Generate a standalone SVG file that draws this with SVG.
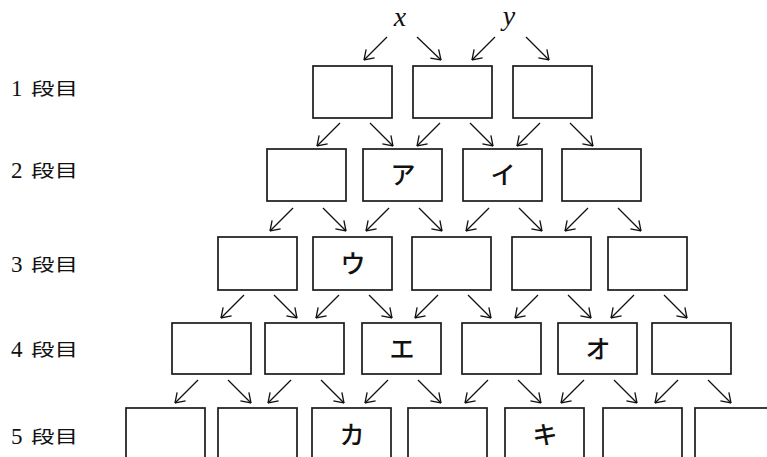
<svg xmlns="http://www.w3.org/2000/svg" width="767" height="457" viewBox="0 0 767 457">
<style>
.box{fill:#fff;stroke:#1a1a1a;stroke-width:1.7}
.arr{stroke:#111;stroke-width:1.3;fill:none;marker-end:url(#ah)}
.num{font-family:"Liberation Serif",serif;font-size:23px;fill:#111}
.kan{font-family:"Noto Sans CJK JP",sans-serif;font-size:17px;fill:#111}
.kana{font-family:"Noto Sans CJK JP",sans-serif;font-size:25px;font-weight:500;fill:#111;text-anchor:middle}
.var{font-family:"Liberation Serif",serif;font-style:italic;font-size:28px;fill:#111;text-anchor:middle}
</style>
<defs>
<marker id="ah" viewBox="0 0 10 14" refX="9.5" refY="7" markerUnits="userSpaceOnUse" markerWidth="10" markerHeight="14" orient="auto">
<path d="M0.5,1 L9.5,7 L0.5,13" fill="none" stroke="#111" stroke-width="1.3"/>
</marker>
</defs>
<rect width="767" height="457" fill="#fff"/>
<g id="labels">
<text class="num" x="11" y="96">1</text><text class="kan" x="31" y="95" textLength="47" lengthAdjust="spacingAndGlyphs">段目</text>
<text class="num" x="11" y="178">2</text><text class="kan" x="31" y="177" textLength="47" lengthAdjust="spacingAndGlyphs">段目</text>
<text class="num" x="11" y="272">3</text><text class="kan" x="31" y="271" textLength="47" lengthAdjust="spacingAndGlyphs">段目</text>
<text class="num" x="11" y="357">4</text><text class="kan" x="31" y="356" textLength="47" lengthAdjust="spacingAndGlyphs">段目</text>
<text class="num" x="11" y="444">5</text><text class="kan" x="31" y="443" textLength="47" lengthAdjust="spacingAndGlyphs">段目</text>
</g>
<g id="inputs">
<text class="var" x="400" y="26">x</text>
<text class="var" x="509" y="25">y</text>
</g>
<g id="row1">
<rect id="r1c1" class="box" x="313" y="66" width="79" height="52"/>
<rect id="r1c2" class="box" x="413" y="66" width="79" height="52"/>
<rect id="r1c3" class="box" x="513" y="66" width="79" height="52"/>
</g>
<g id="row2">
<rect id="r2c1" class="box" x="267" y="149" width="79" height="52"/>
<g id="r2c2"><rect class="box" x="363" y="149" width="79" height="52"/><text class="kana" x="403" y="184">ア</text></g>
<g id="r2c3"><rect class="box" x="463" y="149" width="79" height="52"/><text class="kana" x="503" y="184">イ</text></g>
<rect id="r2c4" class="box" x="562" y="149" width="79" height="52"/>
</g>
<g id="row3">
<rect id="r3c1" class="box" x="218" y="237" width="79" height="53"/>
<g id="r3c2"><rect class="box" x="313" y="237" width="79" height="53"/><text class="kana" x="353" y="273">ウ</text></g>
<rect id="r3c3" class="box" x="412" y="237" width="79" height="53"/>
<rect id="r3c4" class="box" x="512" y="237" width="79" height="53"/>
<rect id="r3c5" class="box" x="608" y="237" width="79" height="53"/>
</g>
<g id="row4">
<rect id="r4c1" class="box" x="172" y="323" width="79" height="51"/>
<rect id="r4c2" class="box" x="265" y="323" width="79" height="51"/>
<g id="r4c3"><rect class="box" x="362" y="323" width="79" height="51"/><text class="kana" x="402" y="358">エ</text></g>
<rect id="r4c4" class="box" x="462" y="323" width="79" height="51"/>
<g id="r4c5"><rect class="box" x="558" y="323" width="79" height="51"/><text class="kana" x="598" y="358">オ</text></g>
<rect id="r4c6" class="box" x="652" y="323" width="79" height="51"/>
</g>
<g id="row5">
<rect id="r5c1" class="box" x="126" y="408" width="79" height="70"/>
<rect id="r5c2" class="box" x="218" y="408" width="79" height="70"/>
<g id="r5c3"><rect class="box" x="312" y="408" width="79" height="70"/><text class="kana" x="352" y="444">カ</text></g>
<rect id="r5c4" class="box" x="408" y="408" width="79" height="70"/>
<g id="r5c5"><rect class="box" x="505" y="408" width="79" height="70"/><text class="kana" x="545" y="444">キ</text></g>
<rect id="r5c6" class="box" x="603" y="408" width="79" height="70"/>
<rect id="r5c7" class="box" x="695" y="408" width="79" height="70"/>
</g>
<g id="connectors">
<path class="arr" d="M387,37L364,60"/><path class="arr" d="M417,37L441,60"/>
<path class="arr" d="M495,37L472,60"/><path class="arr" d="M526,37L549,60"/>

<path class="arr" d="M340,123L317,146"/><path class="arr" d="M370,123L393,146"/>
<path class="arr" d="M440,123L417,146"/><path class="arr" d="M470,123L493,146"/>
<path class="arr" d="M540,123L517,146"/><path class="arr" d="M570,123L593,146"/>

<path class="arr" d="M293,208L270,231"/><path class="arr" d="M323,208L346,231"/>
<path class="arr" d="M389,208L366,231"/><path class="arr" d="M419,208L442,231"/>
<path class="arr" d="M489,208L466,231"/><path class="arr" d="M519,208L542,231"/>
<path class="arr" d="M588,208L565,231"/><path class="arr" d="M618,208L641,231"/>

<path class="arr" d="M244,295L221,318"/><path class="arr" d="M274,295L297,318"/>
<path class="arr" d="M339,295L316,318"/><path class="arr" d="M369,295L392,318"/>
<path class="arr" d="M438,295L415,318"/><path class="arr" d="M468,295L491,318"/>
<path class="arr" d="M538,295L515,318"/><path class="arr" d="M568,295L591,318"/>
<path class="arr" d="M634,295L611,318"/><path class="arr" d="M664,295L687,318"/>

<path class="arr" d="M198,380L175,403"/><path class="arr" d="M228,380L251,403"/>
<path class="arr" d="M291,380L268,403"/><path class="arr" d="M321,380L344,403"/>
<path class="arr" d="M388,380L365,403"/><path class="arr" d="M418,380L441,403"/>
<path class="arr" d="M488,380L465,403"/><path class="arr" d="M518,380L541,403"/>
<path class="arr" d="M584,380L561,403"/><path class="arr" d="M614,380L637,403"/>
<path class="arr" d="M678,380L655,403"/><path class="arr" d="M708,380L731,403"/>
</g>
</svg>
